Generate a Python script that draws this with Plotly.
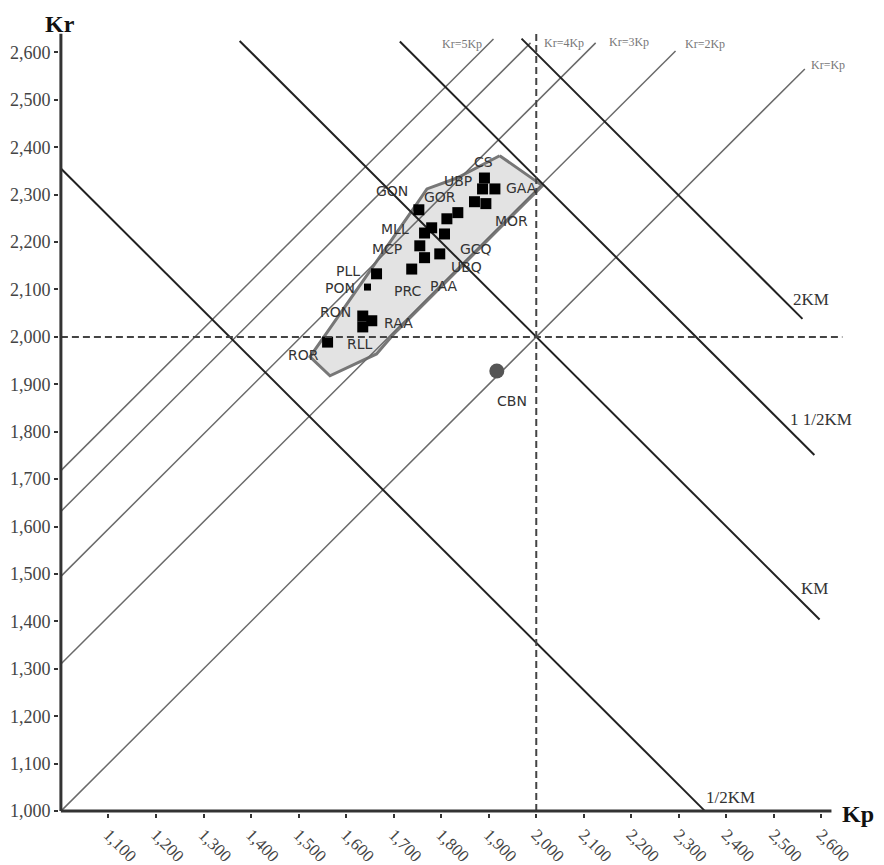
import plotly.graph_objects as go

# ---------------- data ----------------
tick_vals = [1.0, 1.1, 1.2, 1.3, 1.4, 1.5, 1.6, 1.7, 1.8, 1.9, 2.0, 2.1, 2.2, 2.3, 2.4, 2.5, 2.6]
tick_text = ["1,000", "1,100", "1,200", "1,300", "1,400", "1,500", "1,600", "1,700", "1,800",
             "1,900", "2,000", "2,100", "2,200", "2,300", "2,400", "2,500", "2,600"]

# Ratio lines (Kr = Kp + offset)
ratio_labels = ["Kr=Kp", "Kr=2Kp", "Kr=3Kp", "Kr=4Kp", "Kr=5Kp"]
ratio_offsets = [0.0, 0.31, 0.495, 0.632, 0.718]
ratio_kp_start = [1.0, 1.0, 1.0, 1.0, 1.0]
ratio_kr_end = [2.565, 2.603, 2.62, 2.62, 2.628]

# KM lines (Kr + Kp = sum)
km_labels = ["1/2KM", "KM", "1 1/2KM", "2KM"]
km_sums = [3.355, 4.0, 4.336, 4.598]
km_kp_start = [1.0, 1.376, 1.713, 1.969]
km_kp_end = [2.355, 2.596, 2.585, 2.56]

# Reference (dashed) lines
ref_kp = 2.0
ref_kr = 2.0
ref_h_end = 2.644
ref_v_end = 2.64

# Grey zone polygon
zone_kp = [1.923, 2.013, 1.702, 1.664, 1.566, 1.524, 1.749, 1.770, 1.833, 1.923]
zone_kr = [2.382, 2.319, 2.008, 1.964, 1.918, 1.958, 2.281, 2.312, 2.335, 2.382]

# Points
point_names = ["CS", "GAA", "UBP", "MOR", "", "GON", "GOR", "", "MLL", "", "GCQ",
               "MCP", "PAA", "UBQ", "PRC", "PLL", "PON", "RON", "RAA", "RLL", "ROR"]
point_kp = [1.891, 1.913, 1.887, 1.894, 1.870, 1.753, 1.835, 1.812, 1.780, 1.765, 1.807,
            1.755, 1.765, 1.797, 1.738, 1.664, 1.645, 1.635, 1.654, 1.635, 1.561]
point_kr = [2.335, 2.312, 2.312, 2.281, 2.285, 2.268, 2.262, 2.249, 2.230, 2.219, 2.217,
            2.192, 2.167, 2.175, 2.143, 2.133, 2.105, 2.044, 2.034, 2.021, 1.989]

cbn_name = "CBN"
cbn_kp = 1.917
cbn_kr = 1.928

# ---------------- styling ----------------
label_shift = {
    "CS": (-1, 16), "GAA": (27, 1), "UBP": (-25, 8), "MOR": (26, -17),
    "GON": (-27, 19), "GOR": (-18, 16), "MLL": (-37, -1), "GCQ": (31, -15),
    "MCP": (-33, -3), "UBQ": (27, -13), "PAA": (19, -28), "PRC": (-4, -22),
    "PLL": (-29, 3), "PON": (-28, -1), "RON": (-27, 4), "RAA": (27, -2),
    "RLL": (-3, -17), "ROR": (-24, -13),
}
ratio_shift = [(23, 4), (29, 7), (33, 1), (33, 0), (-31, -5)]
km_shift = [(25, 14), (-5, 31), (7, 35), (9, 19)]

SERIF = "Liberation Serif, Times New Roman, serif"
SANS = "DejaVu Sans, Open Sans, sans-serif"

fig = go.Figure()

# zone
fig.add_trace(go.Scatter(x=zone_kp, y=zone_kr, mode="lines", fill="toself",
                         fillcolor="#e3e3e3", line=dict(color="#777777", width=3),
                         hoverinfo="skip", showlegend=False))

# ratio lines
for lab, off, x0, ye in zip(ratio_labels, ratio_offsets, ratio_kp_start, ratio_kr_end):
    xs = [x0, ye - off]
    ys = [x0 + off, ye]
    fig.add_trace(go.Scatter(x=xs, y=ys, mode="lines",
                             line=dict(color="#6a6a6a", width=1.5),
                             hoverinfo="skip", showlegend=False))

# KM lines
for lab, s, x0, x1 in zip(km_labels, km_sums, km_kp_start, km_kp_end):
    fig.add_trace(go.Scatter(x=[x0, x1], y=[s - x0, s - x1], mode="lines",
                             line=dict(color="#222222", width=2),
                             hoverinfo="skip", showlegend=False))

# points
sizes = [7 if n == "PON" else 11 for n in point_names]
fig.add_trace(go.Scatter(x=point_kp, y=point_kr, mode="markers",
                         marker=dict(symbol="square", size=sizes, color="#000000",
                                     opacity=1, line=dict(width=0)),
                         showlegend=False, cliponaxis=False))
fig.add_trace(go.Scatter(x=[cbn_kp], y=[cbn_kr], mode="markers",
                         marker=dict(symbol="circle", size=15, color="#555555"),
                         showlegend=False))

shapes = []
# dashed reference lines
shapes.append(dict(type="line", xref="x", yref="y", x0=1.0, x1=ref_h_end, y0=ref_kr, y1=ref_kr,
                   line=dict(color="#444444", width=2, dash="7px,4px")))
shapes.append(dict(type="line", xref="x", yref="y", x0=ref_kp, x1=ref_kp, y0=1.0, y1=ref_v_end,
                   line=dict(color="#444444", width=2, dash="7px,4px")))
# axis lines
shapes.append(dict(type="line", xref="x", yref="y", x0=1.0, x1=2.621, y0=1.0, y1=1.0,
                   line=dict(color="#333333", width=3)))
shapes.append(dict(type="line", xref="x", yref="y", x0=1.0, x1=1.0, y0=1.0, y1=2.639,
                   line=dict(color="#333333", width=3)))

annotations = []
for n, x, y in zip(point_names, point_kp, point_kr):
    if not n:
        continue
    dx, dy = label_shift[n]
    annotations.append(dict(x=x, y=y, text=n, showarrow=False, xshift=dx, yshift=dy,
                            font=dict(family=SANS, size=14, color="#333333")))
annotations.append(dict(x=cbn_kp, y=cbn_kr, text=cbn_name, showarrow=False, xshift=15, yshift=-30,
                        font=dict(family=SANS, size=14, color="#333333")))

for lab, off, ye, (dx, dy) in zip(ratio_labels, ratio_offsets, ratio_kr_end, ratio_shift):
    annotations.append(dict(x=ye - off, y=ye, text=lab, showarrow=False, xshift=dx, yshift=dy,
                            font=dict(family=SERIF, size=12, color="#777777")))

for lab, s, x1, (dx, dy) in zip(km_labels, km_sums, km_kp_end, km_shift):
    annotations.append(dict(x=x1, y=s - x1, text=lab, showarrow=False, xshift=dx, yshift=dy,
                            font=dict(family=SERIF, size=17, color="#333333")))

annotations.append(dict(xref="paper", yref="paper", x=0.0, y=1.0, xanchor="center", yanchor="bottom",
                        text="<b>Kr</b>", showarrow=False, xshift=1, yshift=-7, borderpad=0,
                        font=dict(family=SERIF, size=24, color="#111111")))
annotations.append(dict(xref="paper", yref="paper", x=1.0, y=0.0, xanchor="right", yanchor="middle",
                        text="<b>Kp</b>", showarrow=False, xshift=26, yshift=-1,
                        font=dict(family=SERIF, size=24, color="#111111")))

# The page body has an 8px default margin; size the figure to fit the 884x865 window.
fig.update_layout(
    width=876, height=857,
    margin=dict(l=51, r=34, t=23, b=52, autoexpand=False),
    paper_bgcolor="white", plot_bgcolor="white",
    shapes=shapes, annotations=annotations,
    showlegend=False,
    xaxis=dict(range=[0.996, 2.66], showgrid=False, zeroline=False, showline=False,
               automargin=False,
               tickvals=tick_vals[1:], ticktext=tick_text[1:], tickangle=45,
               ticks="outside", ticklen=4, tickwidth=2, tickcolor="#333333",
               tickfont=dict(family=SERIF, size=17, color="#444444")),
    yaxis=dict(range=[0.996, 2.645], showgrid=False, zeroline=False, showline=False,
               automargin=False,
               tickvals=tick_vals, ticktext=tick_text,
               ticks="outside", ticklen=4, tickwidth=2, tickcolor="#333333",
               tickfont=dict(family=SERIF, size=18, color="#444444")),
)

fig.write_html("out.html")
